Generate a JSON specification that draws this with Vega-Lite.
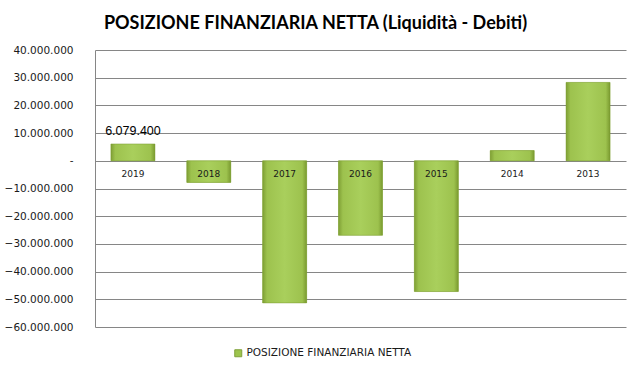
{
  "$schema": "https://vega.github.io/schema/vega-lite/v6.json",
  "autosize": {"type": "none"},
  "padding": {"left": 95, "top": 50, "right": 15, "bottom": 49},
  "width": 531,
  "height": 277,
  "background": "white",
  "title": {
    "text": "POSIZIONE FINANZIARIA NETTA (Liquidità - Debiti)",
    "font": "Lato",
    "fontSize": 18,
    "fontWeight": "bold",
    "color": "#000000",
    "anchor": "middle",
    "dx": -45,
    "offset": 12
  },
  "data": {
    "values": [
      {"anno": "2019", "valore": 6079400, "serie": "POSIZIONE FINANZIARIA NETTA"},
      {"anno": "2018", "valore": -7800000, "serie": "POSIZIONE FINANZIARIA NETTA"},
      {"anno": "2017", "valore": -51300000, "serie": "POSIZIONE FINANZIARIA NETTA"},
      {"anno": "2016", "valore": -26900000, "serie": "POSIZIONE FINANZIARIA NETTA"},
      {"anno": "2015", "valore": -47200000, "serie": "POSIZIONE FINANZIARIA NETTA"},
      {"anno": "2014", "valore": 3700000, "serie": "POSIZIONE FINANZIARIA NETTA"},
      {"anno": "2013", "valore": 28300000, "serie": "POSIZIONE FINANZIARIA NETTA"}
    ]
  },
  "encoding": {
    "x": {
      "field": "anno",
      "type": "nominal",
      "sort": null,
      "scale": {"paddingInner": 0.42, "paddingOuter": 0.21},
      "axis": null
    },
    "y": {
      "field": "valore",
      "type": "quantitative",
      "scale": {"domain": [-60000000, 40000000], "nice": false, "zero": false},
      "axis": {
        "title": null,
        "values": [-60000000, -50000000, -40000000, -30000000, -20000000, -10000000, 0, 10000000, 20000000, 30000000, 40000000],
        "labelExpr": "datum.value == 0 ? '-' : replace(format(datum.value, ','), /,/g, '.')",
        "labelFont": "DejaVu Sans",
        "labelFontSize": 10.5,
        "labelColor": "#1a1a1a",
        "labelPadding": 22,
        "ticks": false,
        "grid": true,
        "gridColor": "#868686",
        "gridWidth": 1,
        "domain": true,
        "domainColor": "#868686"
      }
    }
  },
  "layer": [
    {
      "mark": {"type": "bar"},
      "encoding": {
        "color": {
          "field": "serie",
          "type": "nominal",
          "scale": {"range": ["#9DC44D"]},
          "legend": {
            "title": null,
            "orient": "none",
            "legendX": 138,
            "legendY": 298,
            "symbolType": "square",
            "symbolSize": 49,
            "symbolStrokeColor": "#7FA03A",
            "symbolStrokeWidth": 1,
            "labelFont": "DejaVu Sans",
            "labelFontSize": 10.5,
            "labelColor": "#1a1a1a",
            "labelOffset": 3,
            "labelLimit": 400
          }
        }
      }
    },
    {
      "mark": {
        "type": "bar",
        "fill": {
          "gradient": "linear",
          "x1": 0, "y1": 0, "x2": 1, "y2": 0,
          "stops": [
            {"offset": 0, "color": "#7F9F35"},
            {"offset": 0.1, "color": "#9DC24E"},
            {"offset": 0.5, "color": "#A9CF5C"},
            {"offset": 0.9, "color": "#9DC24E"},
            {"offset": 1, "color": "#7A9A30"}
          ]
        },
        "stroke": "#7A9A30",
        "strokeWidth": 0.5
      }
    },
    {
      "mark": {"type": "text", "font": "DejaVu Sans", "fontSize": 9, "color": "#1a1a1a", "baseline": "middle", "dy": 13},
      "encoding": {
        "y": {"datum": 0},
        "text": {"field": "anno"}
      }
    },
    {
      "transform": [{"filter": "datum.anno == '2019'"}],
      "mark": {"type": "text", "font": "Liberation Sans", "fontSize": 12.5, "color": "#000000", "baseline": "bottom", "dy": -6},
      "encoding": {
        "text": {"field": "valore", "format": ",d"}
      }
    }
  ],
  "config": {
    "locale": {
      "number": {"decimal": ",", "thousands": ".", "grouping": [3], "currency": ["€", ""]}
    },
    "view": {"stroke": null}
  }
}
